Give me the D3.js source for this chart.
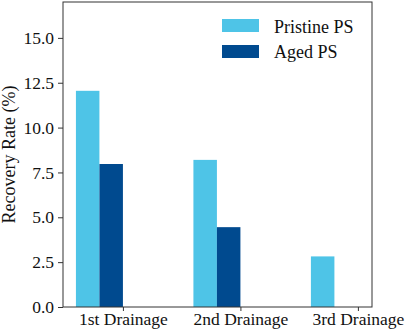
<!DOCTYPE html>
<html><head><meta charset="utf-8">
<script src="https://cdn.jsdelivr.net/npm/d3@7"></script>
<style>body{margin:0;background:#fff}svg{display:block}</style>
</head><body>
<script>
const categories = ["1st Drainage", "2nd Drainage", "3rd Drainage"];
const pristine = [12.05, 8.2, 2.82];
const aged = [7.97, 4.45, 0];
const seriesNames = ["Pristine PS", "Aged PS"];
const yTicks = [0, 2.5, 5, 7.5, 10, 12.5, 15];
const colors = ["#4EC4E7", "#004A8F"];

const W = 408, H = 333;
const m = {left: 63, right: 36, top: 2, bottom: 26};
const svg = d3.select("body").append("svg").attr("width", W).attr("height", H);
const font = "'Liberation Serif','Times New Roman',serif";

const x = d3.scaleLinear().domain([-0.51, 2.12]).range([m.left, W - m.right]);
const y = d3.scaleLinear().domain([0, 17]).range([H - m.bottom, m.top]);
const bw = 0.2;

const series = [pristine, aged];
series.forEach((vals, s) => {
  svg.append("g").selectAll("rect").data(vals).join("rect")
    .attr("x", (d, i) => x(i - bw * (2 - s)))
    .attr("width", (d, i) => x(i - bw * (1 - s)) - x(i - bw * (2 - s)))
    .attr("y", d => y(d))
    .attr("height", d => y(0) - y(d))
    .attr("fill", colors[s]);
});

const yAxis = svg.append("g").attr("transform", `translate(${m.left},0)`)
  .call(d3.axisLeft(y).tickValues(yTicks).tickFormat(d3.format(".1f")).tickSize(5).tickPadding(4));
const xAxis = svg.append("g").attr("transform", `translate(0,${H - m.bottom})`)
  .call(d3.axisBottom(x).tickValues(categories.map((c, i) => i)).tickFormat(i => categories[i]).tickSize(4).tickPadding(2));
[yAxis, xAxis].forEach(g => {
  g.attr("font-size", null).attr("font-family", null);
  g.selectAll("text").attr("font-family", font).attr("font-size", 17.5).attr("fill", "#111");
  g.selectAll("line").attr("stroke", "#333");
  g.select(".domain").remove();
});

svg.append("rect").attr("x", m.left).attr("y", m.top)
  .attr("width", W - m.left - m.right).attr("height", H - m.top - m.bottom)
  .attr("fill", "none").attr("stroke", "#333").attr("stroke-width", 1);

svg.append("text").attr("transform", `translate(15,${(m.top + H - m.bottom) / 2}) rotate(-90)`)
  .attr("text-anchor", "middle").attr("font-family", font).attr("font-size", 18).attr("fill", "#111")
  .text("Recovery Rate (%)");

const leg = svg.append("g");
seriesNames.forEach((n, i) => {
  leg.append("rect").attr("x", 222).attr("y", 19 + i * 26).attr("width", 37).attr("height", 13).attr("fill", colors[i]);
  leg.append("text").attr("x", 274).attr("y", 33 + i * 25).attr("font-family", font).attr("font-size", 18)
    .attr("fill", "#111").text(n);
});
</script>
</body></html>
